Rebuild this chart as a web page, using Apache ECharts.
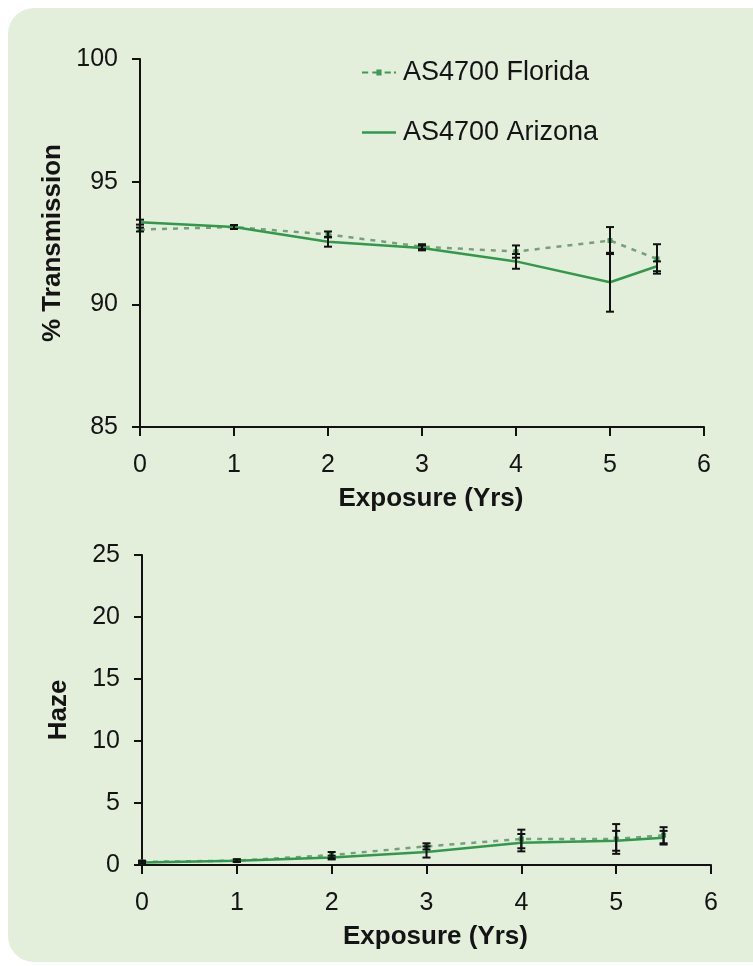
<!DOCTYPE html>
<html>
<head>
<meta charset="utf-8">
<script src="https://cdn.jsdelivr.net/npm/echarts@6/dist/echarts.min.js"></script>
<style>
  html, body { margin: 0; padding: 0; background: #ffffff; overflow: hidden; }
  #panel { position: absolute; left: 8px; top: 8px; width: 790px; height: 954px; background: #e3eedb; border-radius: 26px; }
  #chart { position: absolute; left: 0; top: 0; width: 753px; height: 966px; }
</style>
</head>
<body>
<div id="panel"></div>
<div id="chart"></div>
<script>
// ---- data ----
const years = [0, 1, 2, 3, 4, 5, 5.5];
const xTicks = [0, 1, 2, 3, 4, 5, 6];

const transFlorida    = [93.05, 93.15, 92.85, 92.35, 92.15, 92.6, 91.85];
const transFloridaErr = [0.08, 0.08, 0.12, 0.1, 0.25, 0.55, 0.6];
const transArizona    = [93.35, 93.15, 92.55, 92.3, 91.75, 90.9, 91.55];
const transArizonaErr = [0.1, 0.08, 0.2, 0.1, 0.3, 1.2, 0.2];

const hazeFlorida    = [0.25, 0.35, 0.8, 1.5, 2.1, 2.1, 2.4];
const hazeFloridaErr = [0.1, 0.1, 0.25, 0.25, 0.75, 1.2, 0.65];
const hazeArizona    = [0.2, 0.35, 0.6, 1.05, 1.8, 1.95, 2.2];
const hazeArizonaErr = [0.1, 0.1, 0.15, 0.45, 0.7, 0.8, 0.55];

const seriesNames = ['AS4700 Florida', 'AS4700 Arizona'];

// ---- styling ----
const FONT = "'Liberation Sans', Arial, Helvetica, sans-serif";
const TXT = '#141414';
const ARIZ = '#2f9a4c';
const FLOR = '#76a07b';
const FLOR_DOT = '#3f9a57';

function pairs(xs, ys) { return xs.map((x, i) => [x, ys[i]]); }
function errData(xs, ys, es) { return xs.map((x, i) => [x, ys[i] - es[i], ys[i] + es[i]]); }

function errRender(params, api) {
  const x = api.value(0);
  const lo = api.coord([x, api.value(1)]);
  const hi = api.coord([x, api.value(2)]);
  const w = 4;
  const st = { stroke: '#111', lineWidth: 2 };
  return {
    type: 'group',
    children: [
      { type: 'line', shape: { x1: hi[0], y1: hi[1], x2: lo[0], y2: lo[1] }, style: st },
      { type: 'line', shape: { x1: hi[0] - w, y1: hi[1], x2: hi[0] + w, y2: hi[1] }, style: st },
      { type: 'line', shape: { x1: lo[0] - w, y1: lo[1], x2: lo[0] + w, y2: lo[1] }, style: st }
    ]
  };
}

function xAxisCfg(gridIndex) {
  return {
    type: 'value', gridIndex: gridIndex, min: 0, max: 6, interval: 1,
    name: 'Exposure (Yrs)', nameLocation: 'middle', nameGap: 59,
    nameTextStyle: { fontFamily: FONT, fontSize: 26, fontWeight: 'bold', color: TXT, padding: [0, 0, 0, 18] },
    axisLine: { show: true, onZero: false, lineStyle: { color: '#111', width: 2 } },
    axisTick: { show: true, length: 9, lineStyle: { color: '#111', width: 2 } },
    axisLabel: { fontFamily: FONT, fontSize: 25, color: TXT, margin: 26, formatter: v => xTicks.includes(v) ? String(v) : '' },
    splitLine: { show: false }
  };
}

function yAxisCfg(gridIndex, name, min, max) {
  return {
    type: 'value', gridIndex: gridIndex, min: min, max: max, interval: 5,
    name: name, nameLocation: 'middle', nameGap: 70, nameRotate: 90,
    nameTextStyle: { fontFamily: FONT, fontSize: 26, fontWeight: 'bold', color: TXT },
    axisLine: { show: true, lineStyle: { color: '#111', width: 2 } },
    axisTick: { show: true, length: 8, lineStyle: { color: '#111', width: 2 } },
    axisLabel: { fontFamily: FONT, fontSize: 25, color: TXT, margin: 22 },
    splitLine: { show: false }
  };
}

function lineSeries(name, idx, data, dashed) {
  return {
    name: name, type: 'line', xAxisIndex: idx, yAxisIndex: idx,
    data: data, z: dashed ? 3 : 4,
    symbol: dashed ? 'rect' : 'none', symbolSize: 5,
    itemStyle: { color: dashed ? FLOR_DOT : ARIZ },
    lineStyle: dashed ? { color: FLOR, width: 2.5, type: [5, 6] } : { color: ARIZ, width: 2.5 },
    showSymbol: true, animation: false
  };
}

function errSeries(idx, data) {
  return {
    type: 'custom', xAxisIndex: idx, yAxisIndex: idx, renderItem: errRender,
    data: data, z: 5, animation: false, silent: true,
    encode: { x: 0, y: [1, 2] }
  };
}

const chart = echarts.init(document.getElementById('chart'), null, { renderer: 'canvas' });
chart.setOption({
  backgroundColor: 'transparent',
  animation: false,
  legend: {
    data: [
      { name: seriesNames[0], icon: 'path://M0,5h6v2h-6z M10,5h6v2h-6z M14,3h5v6h-5z M22,5h6v2h-6z M31,5h2v2h-2z' },
      { name: seriesNames[1], icon: 'path://M0,0h34v2.5h-34z' }
    ],
    orient: 'vertical', left: 357, top: 54, itemWidth: 34, itemHeight: 14, itemGap: 33,
    textStyle: { fontFamily: FONT, fontSize: 27, color: TXT, padding: [0, 0, 0, 2] },
    selectedMode: false
  },
  grid: [
    { left: 140, right: 49, top: 59, height: 368, containLabel: false },
    { left: 142, right: 42, top: 555, height: 310, containLabel: false }
  ],
  xAxis: [xAxisCfg(0), xAxisCfg(1)],
  yAxis: [yAxisCfg(0, '% Transmission', 85, 100), yAxisCfg(1, 'Haze', 0, 25)],
  series: [
    lineSeries(seriesNames[0], 0, pairs(years, transFlorida), true),
    lineSeries(seriesNames[1], 0, pairs(years, transArizona), false),
    errSeries(0, errData(years, transFlorida, transFloridaErr)),
    errSeries(0, errData(years, transArizona, transArizonaErr)),
    lineSeries(seriesNames[0], 1, pairs(years, hazeFlorida), true),
    lineSeries(seriesNames[1], 1, pairs(years, hazeArizona), false),
    errSeries(1, errData(years, hazeFlorida, hazeFloridaErr)),
    errSeries(1, errData(years, hazeArizona, hazeArizonaErr))
  ]
});
</script>
</body>
</html>
